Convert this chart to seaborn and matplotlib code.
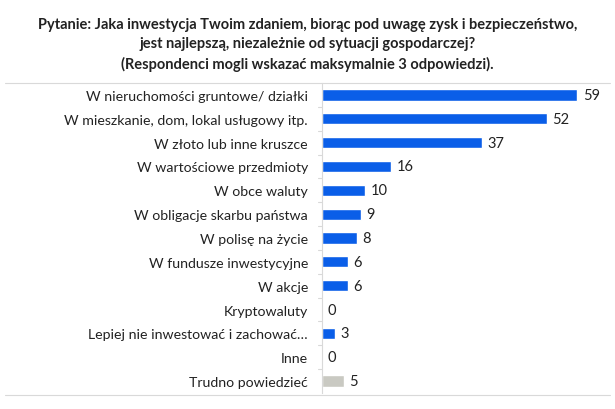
import matplotlib
matplotlib.use("Agg")
import matplotlib.pyplot as plt
import seaborn as sns
import pandas as pd
from matplotlib.lines import Line2D

# Data
categories = [
    "W nieruchomości gruntowe/ działki",
    "W mieszkanie, dom, lokal usługowy itp.",
    "W złoto lub inne kruszce",
    "W wartościowe przedmioty",
    "W obce waluty",
    "W obligacje skarbu państwa",
    "W polisę na życie",
    "W fundusze inwestycyjne",
    "W akcje",
    "Kryptowaluty",
    "Lepiej nie inwestować i zachować…",
    "Inne",
    "Trudno powiedzieć",
]
values = [59, 52, 37, 16, 10, 9, 8, 6, 6, 0, 3, 0, 5]
title = ("Pytanie: Jaka inwestycja Twoim zdaniem, biorąc pod uwagę zysk i bezpieczeństwo,\n"
         "jest najlepszą, niezależnie od sytuacji gospodarczej?\n"
         "(Respondenci mogli wskazać maksymalnie 3 odpowiedzi).")

blue = "#0a5ee8"
grey = "#c9c9c2"
colors = [blue] * (len(categories) - 1) + [grey]

df = pd.DataFrame({"cat": categories, "val": values})

sns.set_theme(style="white")
plt.rcParams["font.family"] = ["Lato", "DejaVu Sans"]

fig = plt.figure(figsize=(6.15, 4.1), dpi=100)
ax = fig.add_axes([322 / 615, 1 - 394 / 410, 278 / 615, 310 / 410])

sns.barplot(data=df, x="val", y="cat", hue="cat", palette=colors,
            saturation=1, legend=False, width=0.47, ax=ax)

ax.set_xlim(0, 64.3)
ax.set_ylim(len(categories) - 0.5, -0.5)
ax.set_xlabel("")
ax.set_ylabel("")
ax.set_xticks([])
for s in ["top", "right", "bottom"]:
    ax.spines[s].set_visible(False)
ax.spines["left"].set_color("#d9d9d9")
ax.spines["left"].set_linewidth(0.8)

ax.tick_params(axis="y", length=0, pad=10, labelsize=10.2, labelcolor="#222222")
# small separator ticks between categories
for i in range(len(categories) - 1):
    ax.plot([-1.0, 0], [i + 0.5, i + 0.5], color="#d9d9d9", lw=0.8, clip_on=False)

for i, v in enumerate(values):
    ax.text(v + 1.3, i, str(v), va="center", ha="left", fontsize=10.5, color="#222222")

fig.text(0.5, 0.955, title, ha="center", va="top", fontsize=10.5,
         fontweight="bold", color="#222222", linespacing=1.45)

fig.add_artist(Line2D([0.008, 0.992], [1 - 84 / 410, 1 - 84 / 410],
                      color="#d9d9d9", lw=0.8, transform=fig.transFigure))
fig.add_artist(Line2D([0.008, 0.992], [1 - 396 / 410, 1 - 396 / 410],
                      color="#d9d9d9", lw=0.8, transform=fig.transFigure))

fig.savefig("out.png", dpi=100, facecolor="white")
